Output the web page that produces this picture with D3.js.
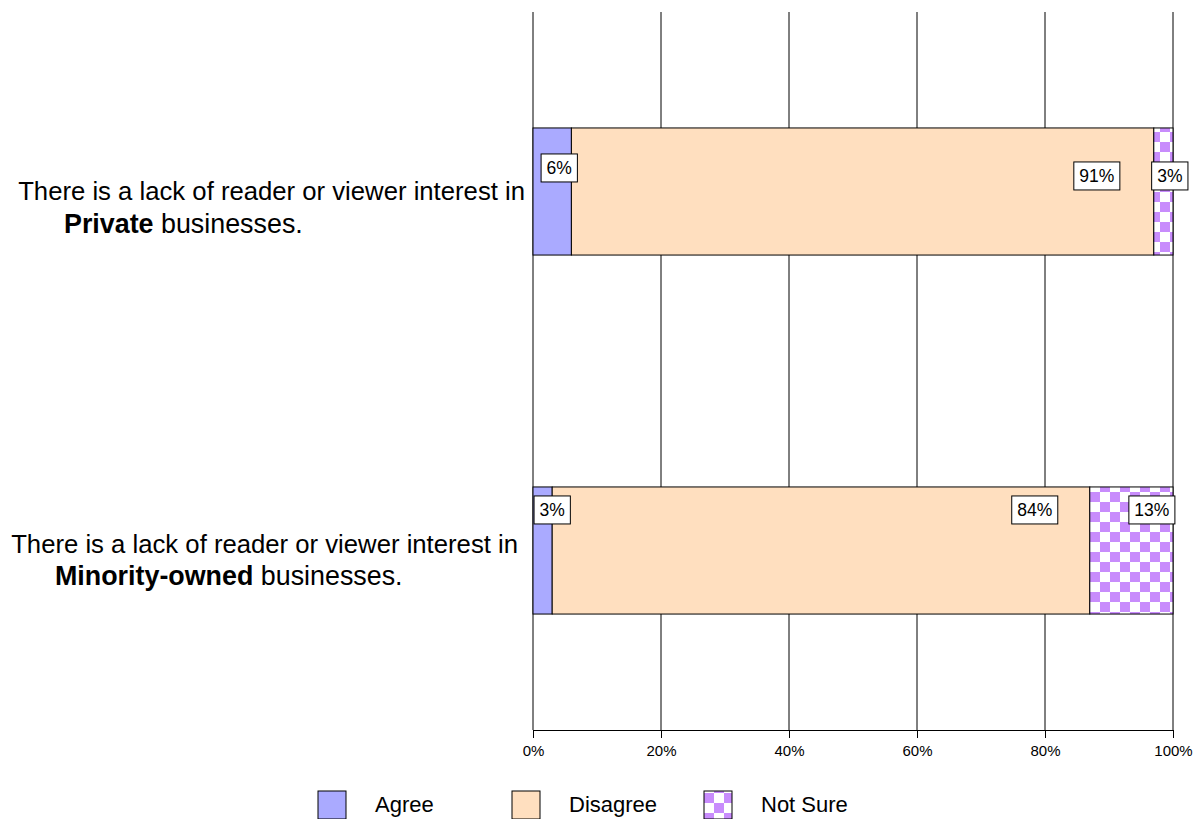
<!DOCTYPE html>
<html>
<head>
<meta charset="utf-8">
<script src="https://cdn.jsdelivr.net/npm/d3@7"></script>
<style>
  body { margin: 0; background: #fff; }
  svg { display: block; font-family: "Liberation Sans", Arial, sans-serif; }
</style>
</head>
<body>
<svg id="chart"></svg>
<script>
// data
var questions = ['Private', 'Minority-owned'];
var series = ['Agree', 'Disagree', 'Not Sure'];
var agree = [6, 3];
var disagree = [91, 84];
var notSure = [3, 13];
var xTicks = [0, 20, 40, 60, 80, 100];
// where each value label sits, in % along the axis
var labelAtAgree = [4.1, 3.0];
var labelAtDisagree = [88.1, 78.4];
var labelAtNotSure = [99.5, 96.7];

var svgWidth = 1198,
    svgHeight = 819,
    margin = {top: 12, right: 25, bottom: 89, left: 533};

var colors = {'Agree': '#aaaaff', 'Disagree': '#ffdfbf', 'Not Sure': 'url(#checks)'};

var svg = d3.select('#chart')
    .attr('width', svgWidth)
    .attr('height', svgHeight);

// checker pattern for Not Sure
var pat = svg.append('defs').append('pattern')
    .attr('id', 'checks')
    .attr('patternUnits', 'userSpaceOnUse')
    .attr('width', 20)
    .attr('height', 20)
    .attr('x', 0)
    .attr('y', 2);
pat.append('rect').attr('width', 20).attr('height', 20).attr('fill', '#fff');
pat.append('rect').attr('width', 10).attr('height', 10).attr('fill', '#c88cfc');
pat.append('rect').attr('x', 10).attr('y', 10).attr('width', 10).attr('height', 10).attr('fill', '#c88cfc');

var x = d3.scaleLinear()
    .domain([0, 100])
    .range([margin.left, svgWidth - margin.right]);

var y = d3.scaleBand()
    .domain(questions)
    .range([margin.top, svgHeight - margin.bottom])
    .paddingInner(0.646)
    .paddingOuter(0.323);

// gridlines
svg.append('g')
    .selectAll('line')
    .data(xTicks)
    .enter().append('line')
    .attr('x1', function(d) { return x(d); })
    .attr('x2', function(d) { return x(d); })
    .attr('y1', margin.top)
    .attr('y2', svgHeight - margin.bottom)
    .attr('stroke', '#000')
    .attr('stroke-width', 1);

// x axis
var xAxis = svg.append('g')
    .attr('transform', 'translate(0,' + (svgHeight - margin.bottom) + ')')
    .call(d3.axisBottom(x)
        .tickValues(xTicks)
        .tickSize(8)
        .tickSizeOuter(0)
        .tickFormat(function(d) { return d + '%'; }));
xAxis.select('.domain').attr('stroke', '#000');
xAxis.selectAll('.tick line').attr('stroke', '#000');
xAxis.selectAll('text')
    .attr('font-size', 15)
    .attr('font-family', '"Liberation Sans", Arial, sans-serif')
    .attr('fill', '#000')
    .attr('dy', '1em');

// stacked rows
var rows = questions.map(function(q, i) {
    return {key: q, Agree: agree[i], Disagree: disagree[i], 'Not Sure': notSure[i]};
});
var stacked = d3.stack().keys(series)(rows);

svg.append('g')
    .selectAll('g')
    .data(stacked)
    .enter().append('g')
    .attr('fill', function(d) { return colors[d.key]; })
    .selectAll('rect')
    .data(function(d) { return d; })
    .enter().append('rect')
    .attr('x', function(d) { return x(d[0]); })
    .attr('y', function(d) { return y(d.data.key); })
    .attr('width', function(d) { return x(d[1]) - x(d[0]); })
    .attr('height', y.bandwidth())
    .attr('stroke', '#000')
    .attr('stroke-width', 1);

// value labels in boxes
var labelAt = {'Agree': labelAtAgree, 'Disagree': labelAtDisagree, 'Not Sure': labelAtNotSure};
var labelDy = [[40, 48, 48], [23, 23, 23]];
var labels = [];
questions.forEach(function(q, i) {
    series.forEach(function(s, j) {
        labels.push({q: q, value: rows[i][s], at: labelAt[s][i], dy: labelDy[i][j]});
    });
});

var lab = svg.append('g')
    .selectAll('g')
    .data(labels)
    .enter().append('g')
    .attr('transform', function(d) {
        return 'translate(' + x(d.at) + ',' + (y(d.q) + d.dy) + ')';
    });
lab.append('text')
    .attr('text-anchor', 'middle')
    .attr('dy', '0.36em')
    .attr('font-size', 17.5)
    .attr('fill', '#000')
    .text(function(d) { return d.value + '%'; });
lab.each(function() {
    var g = d3.select(this);
    var w = g.select('text').node().getComputedTextLength() + 11;
    g.insert('rect', 'text')
        .attr('x', -w / 2)
        .attr('y', -14)
        .attr('width', w)
        .attr('height', 28)
        .attr('fill', '#fff')
        .attr('stroke', '#000')
        .attr('stroke-width', 1);
});

// category labels on the left
var labelLines = {end: [525, 518], indent: [64, 55], line1: [8.5, 2.5], line2: [41, 34]};
questions.forEach(function(q, i) {
    var cy = y(q);
    var t1 = svg.append('text')
        .attr('x', labelLines.end[i])
        .attr('y', cy + y.bandwidth() / 2 + labelLines.line1[i])
        .attr('text-anchor', 'end')
        .attr('font-size', 22)
        .attr('fill', '#000')
        .text('There is a lack of reader or viewer interest in');
    var fs = 22 * 507 / t1.node().getComputedTextLength();
    t1.attr('font-size', fs);
    var t2 = svg.append('text')
        .attr('x', labelLines.indent[i])
        .attr('y', cy + y.bandwidth() / 2 + labelLines.line2[i])
        .attr('font-size', fs * 1.045)
        .attr('fill', '#000');
    t2.append('tspan').attr('font-weight', 'bold').text(q);
    t2.append('tspan').text(' businesses.');
});

// legend
var legendX = [318, 512, 704];
var leg = svg.append('g')
    .selectAll('g')
    .data(series)
    .enter().append('g')
    .attr('transform', function(d, i) { return 'translate(' + legendX[i] + ',791)'; });
leg.append('rect')
    .attr('width', 28)
    .attr('height', 28)
    .attr('fill', function(d) { return colors[d]; })
    .attr('stroke', '#000')
    .attr('stroke-width', 1);
leg.append('text')
    .attr('x', 57)
    .attr('y', 21)
    .attr('font-size', 22)
    .attr('fill', '#000')
    .text(function(d) { return d; });
</script>
</body>
</html>
